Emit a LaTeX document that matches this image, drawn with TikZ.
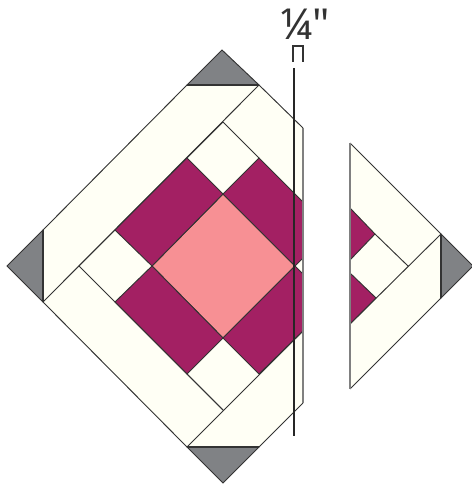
\documentclass[tikz,border=0pt]{standalone}
\usepackage{fontspec}
\newfontfamily\labelfont{Noto Sans}
\definecolor{cream}{HTML}{FFFFF5}
\definecolor{plum}{HTML}{A32063}
\definecolor{salmon}{HTML}{F79094}
\definecolor{slate}{HTML}{808285}
\definecolor{seamgray}{HTML}{808080}
\definecolor{ink}{HTML}{333333}
\tikzset{
    patch/.style={draw=ink, line width=0.7pt, line join=miter},
    cutline/.style={draw=seamgray, line width=1pt},
}
\begin{document}
\begin{tikzpicture}[x=0.75pt, y=-0.75pt]
    \useasboundingbox (0,0) rectangle (471,485);

    % 左半部分 底色
    \fill[cream] (187,85) -- (259,85) -- (303,128) -- (303,403) -- (259,447) -- (187,447)
        -- (43,302) -- (43,230) -- cycle;

    % 中心方块
    \filldraw[patch, fill=salmon] (223,194) -- (295,266) -- (223,338) -- (152,266) -- cycle;

    % 紫色块
    \filldraw[patch, fill=plum] (115,230) -- (187,158) -- (223,194) -- (152,266) -- cycle;
    \filldraw[patch, fill=plum] (152,266) -- (223,338) -- (187,374) -- (115,302) -- cycle;
    \filldraw[patch, fill=plum] (259,158) -- (303,202) -- (303,258) -- (295,266) -- (223,194) -- cycle;
    \filldraw[patch, fill=plum] (295,266) -- (303,274) -- (303,331) -- (259,374) -- (223,338) -- cycle;

    % 内部线条
    \draw[patch] (259,85) -- (43,302);
    \draw[patch] (187,447) -- (303,331);
    \draw[patch] (223,122) -- (259,158);
    \draw[patch] (187,158) -- (223,122);
    \draw[patch] (79,266) -- (223,410);
    \draw[patch] (115,230) -- (79,266);
    \draw[patch] (187,374) -- (223,410);

    % 外边
    \draw[patch] (43,230) -- (187,85);
    \draw[patch] (259,85) -- (303,128);
    \draw[patch] (43,302) -- (187,447);
    \draw[patch] (259,447) -- (303,403);

    % 四角三角形
    \filldraw[patch, fill=slate] (222,50) -- (259,85) -- (187,85) -- cycle;
    \filldraw[patch, fill=slate] (7,266) -- (43,230) -- (43,302) -- cycle;
    \filldraw[patch, fill=slate] (223,483) -- (187,447) -- (259,447) -- cycle;
    \draw[ink, line width=1pt] (187,85) -- (259,85);
    \draw[ink, line width=1.2pt] (43,230) -- (43,302);
    \draw[ink, line width=1.2pt] (187,447) -- (259,447);

    % 裁切线
    \draw[cutline] (303,128) -- (303,403);

    % 右半部分
    \fill[cream] (350,143) -- (441,234) -- (441,298) -- (350,389) -- cycle;
    \filldraw[patch, fill=plum] (350,208) -- (375,234) -- (350,260) -- cycle;
    \filldraw[patch, fill=plum] (350,273) -- (376,298) -- (350,324) -- cycle;
    \draw[patch] (375,234) -- (408,266);
    \draw[patch] (350,324) -- (441,234);
    \draw[patch] (350,143) -- (441,234);
    \draw[patch] (350,389) -- (441,298);
    \filldraw[patch, fill=slate] (473,266) -- (441,234) -- (441,298) -- cycle;
    \draw[ink, line width=1.2pt] (441,234) -- (441,298);
    \draw[cutline] (350,143) -- (350,389);

    % 缝份线
    \draw[black!85, line width=1.4pt] (294,68) -- (294,436);

    % 缝份标注
    \draw[ink, line width=0.9pt] (293,62) -- (293,46) -- (303,46) -- (303,62);
    \node[text=ink, inner sep=0pt, font=\labelfont\fontsize{32}{32}\selectfont] (seamlabel) at (305,24) {¼"};
\end{tikzpicture}
\end{document}
